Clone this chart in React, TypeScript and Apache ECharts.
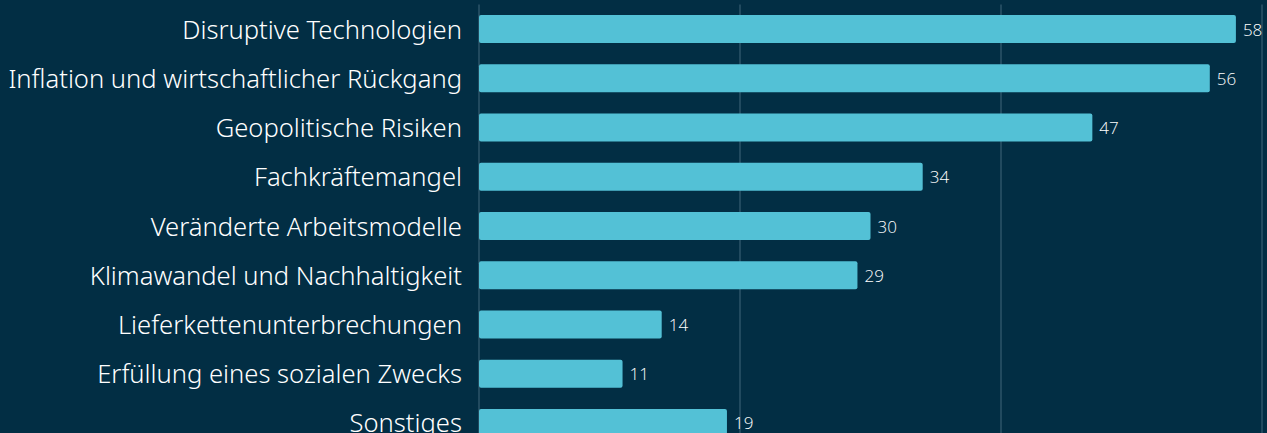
import React, { useEffect, useRef } from "react";
import * as echarts from "echarts";

const categories = [
  "Disruptive Technologien",
  "Inflation und wirtschaftlicher Rückgang",
  "Geopolitische Risiken",
  "Fachkräftemangel",
  "Veränderte Arbeitsmodelle",
  "Klimawandel und Nachhaltigkeit",
  "Lieferkettenunterbrechungen",
  "Erfüllung eines sozialen Zwecks",
  "Sonstiges",
];
const values = [58, 56, 47, 34, 30, 29, 14, 11, 19];

export default function App() {
  const ref = useRef<HTMLDivElement>(null);
  useEffect(() => {
    const chart = echarts.init(ref.current!, null, { renderer: "svg" });
    chart.setOption({
      animation: false,
      backgroundColor: "#022e44",
      grid: {
        left: 479,
        right: 5,
        top: 4.5,
        height: 443,
        containLabel: false,
        outerBoundsMode: "none",
      },
      xAxis: {
        type: "value",
        min: 0,
        max: 60,
        interval: 20,
        axisLabel: { show: false },
        axisLine: { show: false },
        axisTick: { show: false },
        splitLine: { show: true, lineStyle: { color: "#2d5468", width: 1.5 } },
      },
      yAxis: {
        type: "category",
        data: categories,
        inverse: true,
        axisLine: { show: false },
        axisTick: { show: false },
        axisLabel: {
          color: "#ffffff",
          fontFamily: "Noto Sans",
          fontWeight: 300,
          fontSize: 25.6,
          margin: 17,
        },
      },
      series: [
        {
          type: "bar",
          data: values,
          barWidth: 28,
          itemStyle: { color: "#53c1d6", borderRadius: 2 },
          label: {
            show: true,
            position: "right",
            distance: 7,
            color: "#ffffff",
            fontFamily: "Open Sans",
            fontWeight: 300,
            fontSize: 17,
          },
        },
      ],
    });
    return () => chart.dispose();
  }, []);
  return (
    <div
      ref={ref}
      style={{ position: "fixed", left: 0, top: 0, width: 1267, height: 433 }}
    />
  );
}
